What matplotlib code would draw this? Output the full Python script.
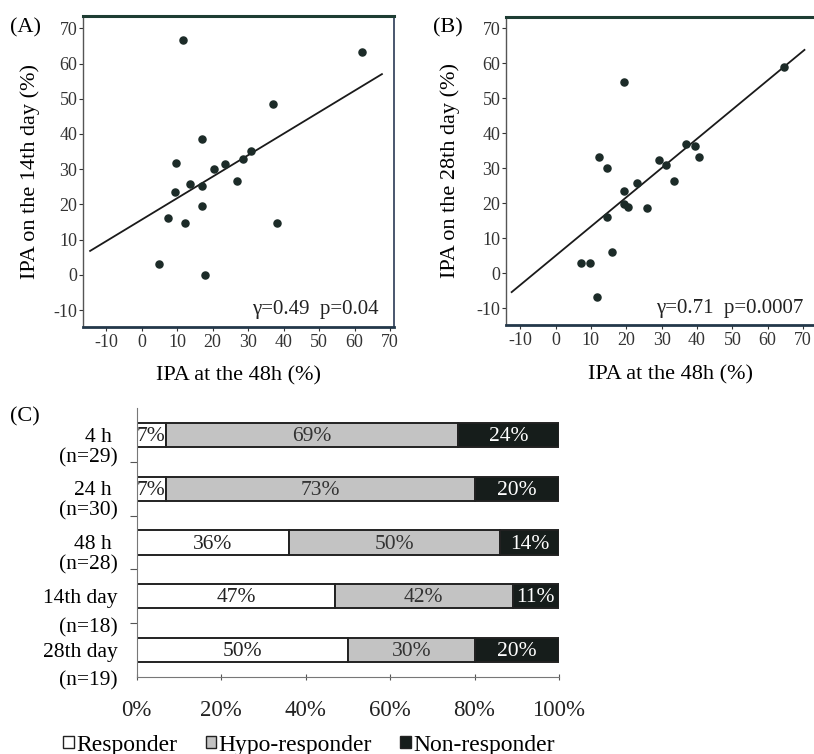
import numpy as np
import matplotlib
matplotlib.use("Agg")
import matplotlib.pyplot as plt
from matplotlib.patches import Patch

plt.rcParams['font.family'] = ['Liberation Serif', 'DejaVu Serif']
plt.rcParams['axes.unicode_minus'] = False

# (A) IPA at 48h vs 14th day
a_x = [11.8, 62.1, 36.9, 16.9, 9.8, 30.8, 28.7, 23.6, 20.5, 27.0,
       13.5, 17.0, 9.3, 17.0, 7.5, 12.3, 38.1, 5.0, 18.0]
a_y = [66.8, 63.2, 48.5, 38.6, 31.9, 35.2, 32.8, 31.5, 30.1, 26.6,
       25.7, 25.1, 23.5, 19.6, 16.2, 14.8, 14.8, 3.0, 0.1]
a_line_x = [-14.5, 67.7]
a_line_y = [6.8, 57.0]

# (B) IPA at 48h vs 28th day
b_x = [19.4, 64.7, 12.4, 14.5, 29.4, 31.2, 36.8, 39.4, 40.7, 33.4,
       23.0, 19.5, 19.5, 20.6, 26.0, 14.6, 15.9, 7.3, 9.8, 11.8]
b_y = [54.5, 59.0, 33.3, 30.2, 32.4, 31.0, 37.0, 36.4, 33.3, 26.4,
       25.8, 23.6, 19.7, 18.8, 18.6, 16.2, 6.2, 2.9, 3.0, -6.7]
b_line_x = [-12.4, 70.4]
b_line_y = [-5.4, 63.8]

scatter_ticks = [-10, 0, 10, 20, 30, 40, 50, 60, 70]

# (C) response categories
times = ['4 h', '24 h', '48 h', '14th day', '28th day']
counts = ['(n=29)', '(n=30)', '(n=28)', '(n=18)', '(n=19)']
responder = [7, 7, 36, 47, 50]
hypo = [69, 73, 50, 42, 30]
non_responder = [24, 20, 14, 11, 20]
pct_ticks = [0, 20, 40, 60, 80, 100]

W, H = 814, 754
fig = plt.figure(figsize=(W / 100, H / 100), dpi=100)

dot_color = '#1c2b28'


def px_axes(left, top, right, bottom):
    return fig.add_axes([left / W, 1 - bottom / H, (right - left) / W, (bottom - top) / H])


def style_scatter(ax):
    ax.spines['top'].set_linewidth(2.2)
    ax.spines['top'].set_color('#1e3d33')
    ax.spines['bottom'].set_linewidth(2.0)
    ax.spines['bottom'].set_color('#23384a')
    ax.spines['left'].set_linewidth(1.0)
    ax.spines['left'].set_color('#555555')
    ax.spines['right'].set_linewidth(1.2)
    ax.spines['right'].set_color('#2a3a55')
    ax.set_xticks(scatter_ticks)
    ax.set_yticks(scatter_ticks)
    ax.tick_params(direction='out', length=3, width=0.8, labelsize=13, colors='#333333')
    ax.tick_params(axis='x', pad=2)
    ax.tick_params(axis='y', pad=1)


# panel A
ax_a = px_axes(83, 16, 394, 327)
ax_a.scatter(a_x, a_y, s=26, color=dot_color, zorder=3)
ax_a.plot(a_line_x, a_line_y, color='#1a1a1a', lw=1.3)
ax_a.set_xlim(-16.5, 71.1)
ax_a.set_ylim(-14.8, 73.5)
style_scatter(ax_a)
ax_a.set_ylabel('IPA on the 14th day (%)', fontsize=16, labelpad=10)
ax_a.set_xlabel('IPA at the 48h (%)', fontsize=16, labelpad=11)
ax_a.text(0.95, 0.055, 'γ=0.49  p=0.04', transform=ax_a.transAxes,
          ha='right', va='center', fontsize=15, color='#222222')
fig.text(10 / W, 1 - 28 / H, '(A)', fontsize=16, va='center', ha='left')

# panel B
ax_b = px_axes(506, 17, 814, 325)
ax_b.scatter(b_x, b_y, s=26, color=dot_color, zorder=3)
ax_b.plot(b_line_x, b_line_y, color='#1a1a1a', lw=1.3)
ax_b.set_xlim(-14.0, 73.1)
ax_b.set_ylim(-14.8, 73.2)
style_scatter(ax_b)
ax_b.spines['right'].set_visible(False)
ax_b.set_ylabel('IPA on the 28th day (%)', fontsize=16, labelpad=12)
ax_b.set_xlabel('IPA at the 48h (%)', fontsize=16)
ax_b.xaxis.set_label_coords((670 - 506) / (814 - 506), -0.13)
ax_b.text(0.965, 0.055, 'γ=0.71  p=0.0007', transform=ax_b.transAxes,
          ha='right', va='center', fontsize=15, color='#222222')
fig.text(433 / W, 1 - 28 / H, '(B)', fontsize=16, va='center', ha='left')

# panel C
ax_c = px_axes(136.7, 408, 559, 677)
pos = np.arange(len(times))
bar_h = 0.45
edge = '#222222'
ax_c.barh(pos, responder, height=bar_h, color='white', edgecolor=edge, lw=1.4)
ax_c.barh(pos, hypo, left=responder, height=bar_h, color='#c3c3c3', edgecolor=edge, lw=1.4)
left_non = np.array(responder) + np.array(hypo)
ax_c.barh(pos, non_responder, left=left_non, height=bar_h, color='#161d1b', edgecolor=edge, lw=1.4)

label_x = -20 / 422 * 100 * 0.95
for i in range(len(times)):
    segs = [(0, responder[i], '#222222'),
            (responder[i], hypo[i], '#333333'),
            (left_non[i], non_responder[i], 'white')]
    for start, width, col in segs:
        ax_c.text(start + width / 2, pos[i] + 0.03, f'{width}%', ha='center', va='center',
                  fontsize=15.5, color=col)
    is_day = 'day' in times[i]
    off2 = 0.58 if is_day else 0.42
    x1 = label_x if is_day else label_x * 1.3
    ax_c.text(x1, pos[i] + 0.04, times[i], ha='right', va='center', fontsize=15.5)
    ax_c.text(label_x, pos[i] + off2, counts[i], ha='right', va='center', fontsize=15.5)

ax_c.set_xlim(0, 100)
ax_c.set_ylim(4.5, -0.5)
ax_c.set_yticks(pos[:-1] + 0.5)
ax_c.set_yticklabels([])
ax_c.set_xticks(pct_ticks)
ax_c.set_xticklabels([f'{t}%' for t in pct_ticks], fontsize=16.5)
ax_c.tick_params(axis='y', direction='out', length=5, width=0.8, colors='#555555')
ax_c.tick_params(axis='x', direction='inout', length=5, width=0.8, pad=14, colors='#555555',
                 labelcolor='#222222')
for side in ['top', 'right']:
    ax_c.spines[side].set_visible(False)
ax_c.spines['left'].set_color('#777777')
ax_c.spines['bottom'].set_color('#777777')
fig.text(10 / W, 1 - 417 / H, '(C)', fontsize=16, va='center', ha='left')

handles = [Patch(facecolor='white', edgecolor=edge, label='Responder'),
           Patch(facecolor='#c3c3c3', edgecolor=edge, label='Hypo-responder'),
           Patch(facecolor='#161d1b', edgecolor=edge, label='Non-responder')]
fig.legend(handles=handles, loc='center', bbox_to_anchor=(309 / W, 1 - 745 / H), ncol=3,
           frameon=False, fontsize=17, handlelength=0.45, handleheight=0.45,
           handletextpad=0.1, columnspacing=1.2, borderaxespad=0)

fig.savefig('out.png', dpi=100)
